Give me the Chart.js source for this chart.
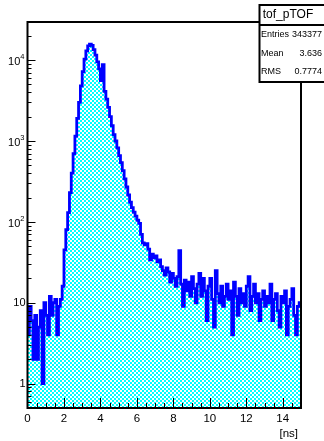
<!DOCTYPE html>
<html>
<head>
<meta charset="utf-8">
<script src="https://cdn.jsdelivr.net/npm/chart.js@4"></script>
<style>
  html, body { margin: 0; padding: 0; background: #fff; }
  canvas { display: block; }
</style>
</head>
<body>
<canvas id="tof" width="324" height="441"></canvas>
<script>
// tof_pTOF : 150 bins, 0 - 15 ns
const binWidth = 0.1;
const counts = [
  4, 9, 6, 2, 7, 2, 5, 8, 1, 10,
  7, 4, 12, 7, 10, 11, 4, 9, 11, 16,
  45, 80, 130, 230, 400, 700, 1150, 1900, 3000, 4800,
  7200, 10300, 13000, 15000, 15800, 15200, 13500, 11500, 9500, 7800,
  5600, 8800, 4100, 3300, 2600, 2000, 1550, 1200, 1000, 820,
  660, 540, 430, 340, 270, 215, 175, 150, 132, 118,
  105, 96, 70, 55, 52, 54, 46, 34, 40, 36,
  38, 32, 34, 28, 25, 22, 27, 24, 18, 23,
  20, 16, 21, 44, 17, 9, 19, 14, 18, 12,
  21, 15, 10, 17, 23, 12, 20, 14, 6, 16,
  20, 11, 5, 25, 13, 10, 16, 9, 12, 17,
  11, 14, 4, 18, 12, 7, 15, 10, 13, 9,
  16, 21, 8, 12, 17, 10, 13, 6, 11, 14,
  9, 12, 10, 17, 6, 11, 13, 8, 5, 12,
  10, 14, 4, 9, 11, 15, 7, 4, 9, 10
];
const xTicks = [0, 2, 4, 6, 8, 10, 12, 14];
const yTicks = [1, 10, 100, 1000, 10000];
const yTickLabels = [["1", ""], ["10", ""], ["10", "2"], ["10", "3"], ["10", "4"]];
const statsTitle = "tof_pTOF";
const statsNames = ["Entries", "Mean", "RMS"];
const statsValues = ["343377", "3.636", "0.7774"];
const xTitle = "[ns]";

const binEdges = counts.map((c, i) => Math.round(i * binWidth * 10) / 10);

const points = binEdges.map((x, i) => ({ x: x, y: counts[i] }));
points.push({ x: 15, y: counts[counts.length - 1] });

const canvas = document.getElementById("tof");
const ctx = canvas.getContext("2d");

// ROOT like checker hatch
function hatch() {
  const c = document.createElement("canvas");
  c.width = 4; c.height = 4;
  const g = c.getContext("2d");
  g.fillStyle = "#fff";
  g.fillRect(0, 0, 4, 4);
  g.fillStyle = "#00ffff";
  g.fillRect(0, 0, 2, 2);
  g.fillRect(2, 2, 2, 2);
  return ctx.createPattern(c, "repeat");
}

const FONT = "'Liberation Sans', Arial, Helvetica, sans-serif";

const rootFrame = {
  id: "rootFrame",
  afterDraw(chart) {
    const c = chart.ctx;
    const a = chart.chartArea;
    const sx = chart.scales.x, sy = chart.scales.y;
    c.save();

    // ticks
    c.strokeStyle = "#000";
    c.lineWidth = 1;
    c.beginPath();
    for (let k = 1; k < 30; k++) {
      const px = Math.round(sx.getPixelForValue(k * 0.5)) + 0.5;
      const len = k % 4 === 0 ? 10 : 5;
      c.moveTo(px, a.bottom);
      c.lineTo(px, a.bottom - len);
    }
    for (let d = -1; d <= 4; d++) {
      for (let m = 1; m <= 9; m++) {
        const v = m * Math.pow(10, d);
        if (v <= sy.min || v >= sy.max) continue;
        const py = Math.round(sy.getPixelForValue(v)) + 0.5;
        const len = m === 1 ? 8 : 4;
        c.moveTo(a.left, py);
        c.lineTo(a.left + len, py);
      }
    }
    c.stroke();

    // frame
    c.lineWidth = 2;
    c.strokeRect(a.left, a.top, a.right - a.left, a.bottom - a.top);

    // x labels
    c.fillStyle = "#000";
    c.font = "11.5px " + FONT;
    c.textAlign = "center";
    c.textBaseline = "middle";
    xTicks.forEach(v => c.fillText(String(v), sx.getPixelForValue(v), 419));
    c.textAlign = "right";
    c.fillText(xTitle, 298, 434);

    // y labels
    yTicks.forEach((v, i) => {
      const py = sy.getPixelForValue(v);
      const base = yTickLabels[i][0], sup = yTickLabels[i][1];
      c.textAlign = "right";
      if (sup) {
        c.font = "7.5px " + FONT;
        c.fillText(sup, 24.5, py - 3);
        const w = c.measureText(sup).width;
        c.font = "11px " + FONT;
        c.fillText(base, 24.5 - w, py + 2);
      } else {
        c.font = "11px " + FONT;
        c.fillText(base, 25.5, py);
      }
    });

    // stats box (runs off the right edge, as in ROOT canvas)
    c.fillStyle = "#fff";
    c.fillRect(259.5, 5, 80, 77);
    c.lineWidth = 2;
    c.strokeRect(259.5, 5, 80, 77);
    c.beginPath();
    c.moveTo(259.5, 25);
    c.lineTo(340, 25);
    c.stroke();
    c.fillStyle = "#000";
    c.textAlign = "center";
    c.font = "12px " + FONT;
    c.fillText(statsTitle, 288, 15);
    c.font = "9px " + FONT;
    statsNames.forEach((n, i) => {
      const py = 35 + i * 18.5;
      c.textAlign = "left";
      c.fillText(n, 261, py);
      c.textAlign = "right";
      c.fillText(statsValues[i], 322, py);
    });

    c.restore();
  }
};

new Chart(ctx, {
  type: "line",
  data: {
    datasets: [{
      data: points,
      stepped: "before",
      borderColor: "#0000ff",
      borderWidth: 2.8,
      backgroundColor: hatch(),
      fill: "start",
      pointRadius: 0,
      tension: 0
    }]
  },
  options: {
    responsive: false,
    animation: false,
    devicePixelRatio: 1,
    events: [],
    layout: { padding: { left: 27.5, top: 22, right: 23, bottom: 33 } },
    plugins: { legend: { display: false }, tooltip: { enabled: false } },
    scales: {
      x: { type: "linear", min: 0, max: 15, display: false },
      y: { type: "logarithmic", min: 0.5, max: 29600, display: false }
    }
  },
  plugins: [rootFrame]
});
</script>
</body>
</html>
